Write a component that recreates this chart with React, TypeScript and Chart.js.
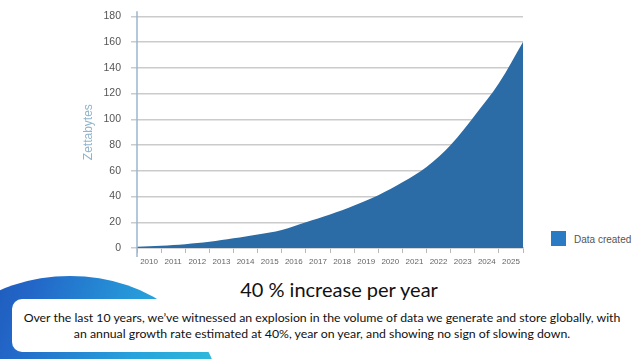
import React, { useEffect, useRef } from "react";
import { Chart, registerables } from "chart.js";

Chart.register(...registerables);

const yearLabels = ["2010", "2011", "2012", "2013", "2014", "2015", "2016", "2017", "2018", "2019", "2020", "2021", "2022", "2023", "2024", "2025"];
const pointYears = [2010, 2011, 2012, 2013, 2014, 2015, 2016, 2017, 2018, 2019, 2020, 2021, 2022, 2023, 2024, 2025, 2026];
const zettabytes = [1, 1.8, 3, 4.8, 7.5, 10.5, 14, 20, 26, 33, 41, 51, 63, 80, 103, 128, 160];
const seriesName = "Data created";
const yAxisTitle = "Zettabytes";
const headline = "40 % increase per year";
const captionLines = [
  "Over the last 10 years, we\u2019ve witnessed an explosion in the volume of data we generate and store globally, with",
  "an annual growth rate estimated at 40%, year on year, and showing no sign of slowing down.",
];

const chartFont = "'Liberation Sans', Arial, Helvetica, sans-serif";
const textFont = "Lato, 'Open Sans', sans-serif";

const yAxisLine = {
  id: "yAxisLine",
  afterDatasetsDraw(chart: any) {
    const { ctx, chartArea } = chart;
    ctx.save();
    ctx.strokeStyle = "#9ab6cf";
    ctx.lineWidth = 1.5;
    ctx.beginPath();
    ctx.moveTo(chartArea.left, chartArea.top - 5);
    ctx.lineTo(chartArea.left, chartArea.bottom + 9);
    ctx.stroke();
    ctx.restore();
  },
};

export default function App() {
  const canvasRef = useRef<HTMLCanvasElement | null>(null);

  useEffect(() => {
    if (!canvasRef.current) return;
    const chart = new Chart(canvasRef.current, {
      type: "line",
      data: {
        labels: yearLabels,
        datasets: [
          {
            label: seriesName,
            data: pointYears.map((x, i) => ({ x, y: zettabytes[i] })),
            xAxisID: "x",
            backgroundColor: "#2c6ca6",
            borderColor: "#2c6ca6",
            borderWidth: 0,
            pointRadius: 0,
            fill: "origin",
            tension: 0.35,
          },
        ],
      },
      options: {
        responsive: false,
        animation: false,
        layout: { padding: { left: 77, top: 13, right: 17, bottom: 0 } },
        plugins: { legend: { display: false }, tooltip: { enabled: false } },
        scales: {
          x: { type: "linear", min: 2010, max: 2026, display: false },
          xc: {
            type: "category",
            position: "bottom",
            offset: true,
            grid: { offset: true, drawOnChartArea: false, tickLength: 5, color: "#b8b8b8", lineWidth: 1 },
            border: { color: "#c8c8c8", width: 1.5 },
            ticks: { color: "#666", font: { size: 8, family: chartFont }, padding: 4, maxRotation: 0, autoSkip: false },
            afterFit: (a: any) => {
              a.height = 24;
            },
          },
          y: {
            min: 0,
            max: 180,
            ticks: { stepSize: 20, color: "#555", font: { size: 10.5, family: chartFont }, padding: 10 },
            grid: { color: "#cbcbcb", lineWidth: 1.5, tickLength: 6 },
            border: { display: false },
            title: {
              display: true,
              text: yAxisTitle,
              color: "#8fb4cc",
              font: { size: 12, family: chartFont },
              padding: { top: 4, bottom: 4 },
            },
            afterFit: (a: any) => {
              a.width = 60;
            },
          },
        },
      } as any,
      plugins: [yAxisLine],
    });
    return () => chart.destroy();
  }, []);

  return (
    <div style={{ position: "absolute", left: 0, top: 0, width: 638, height: 359, overflow: "hidden", background: "#fff" }}>
      <canvas ref={canvasRef} width={540} height={272} style={{ position: "absolute", left: 0, top: 0, width: 540, height: 272 }} />
      <div style={{ position: "absolute", left: 551, top: 231, width: 15, height: 15, background: "#2b7bc4" }} />
      <div style={{ position: "absolute", left: 574, top: 233, fontFamily: chartFont, fontSize: 10, color: "#555", whiteSpace: "nowrap", lineHeight: "14px" }}>
        {seriesName}
      </div>
      <div
        style={{
          position: "absolute",
          left: -80,
          top: 276,
          width: 300,
          height: 246,
          borderRadius: "50%",
          background: "linear-gradient(110deg, #1747a6 0%, #2267c8 30%, #27a2dc 62%, #35cadb 100%)",
        }}
      />
      <div style={{ position: "absolute", left: 12, top: 299, width: 640, height: 53, borderRadius: 10, background: "#fff" }} />
      <div style={{ position: "absolute", left: 0, top: 276, width: 678, textAlign: "center", fontFamily: textFont, fontSize: 20, color: "#111", lineHeight: "26px", whiteSpace: "nowrap" }}>
        {headline}
      </div>
      <div style={{ position: "absolute", left: 0, top: 310, width: 644, textAlign: "center", fontFamily: textFont, fontSize: 12.3, color: "#111", lineHeight: "16px", whiteSpace: "nowrap" }}>
        {captionLines.map((l, i) => (
          <div key={i}>{l}</div>
        ))}
      </div>
    </div>
  );
}
